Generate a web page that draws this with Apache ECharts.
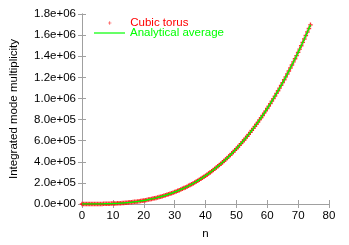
<!DOCTYPE html>
<html>
<head>
<meta charset="utf-8">
<script src="https://cdn.jsdelivr.net/npm/echarts@6/dist/echarts.min.js"></script>
<style>html,body{margin:0;padding:0;background:#fff}#c{width:349px;height:245px}</style>
</head>
<body>
<div id="c"></div>
<script>
var torusN = [0,0.5,1,1.5,2,2.5,3,3.5,4,4.5,5,5.5,6,6.5,7,7.5,8,8.5,9,9.5,10,10.5,11,11.5,12,12.5,13,13.5,14,14.5,15,15.5,16,16.5,17,17.5,18,18.5,19,19.5,20,20.5,21,21.5,22,22.5,23,23.5,24,24.5,25,25.5,26,26.5,27,27.5,28,28.5,29,29.5,30,30.5,31,31.5,32,32.5,33,33.5,34,34.5,35,35.5,36,36.5,37,37.5,38,38.5,39,39.5,40,40.5,41,41.5,42,42.5,43,43.5,44,44.5,45,45.5,46,46.5,47,47.5,48,48.5,49,49.5,50,50.5,51,51.5,52,52.5,53,53.5,54,54.5,55,55.5,56,56.5,57,57.5,58,58.5,59,59.5,60,60.5,61,61.5,62,62.5,63,63.5,64,64.5,65,65.5,66,66.5,67,67.5,68,68.5,69,69.5,70,70.5,71,71.5,72,72.5,73,73.5,74];
var torusValues = [1,1,7,14,33,65,123,180,257,382,515,697,925,1150,1419,1767,2109,2573,3071,3591,4169,4849,5575,6371,7153,8181,9171,10306,11513,12770,14147,15599,17077,18817,20479,22449,24405,26522,28671,31060,33401,36087,38745,41630,44473,47713,50979,54362,57777,61601,65267,69456,73527,77952,82395,87114,91911,96967,101971,107537,112985,118848,124735,130925,137217,143794,150525,157480,164513,172007,179463,187402,195391,203689,212161,220893,229713,239040,248305,258155,267933,278262,288661,299387,310229,321555,332969,344792,356831,369122,381537,394570,407585,421162,434935,448922,463057,477876,492787,508049,523497,539466,555527,572152,588857,606133,623519,641433,659567,678078,696911,716092,735469,755502,775695,796331,817123,838604,860259,882349,904745,927588,950695,974348,998341,1022654,1047391,1072530,1097869,1124003,1150181,1177096,1204229,1231836,1259879,1288247,1316977,1346354,1376107,1406184,1436629,1467760,1499157,1531109,1563385,1596254,1629545,1662802,1697395];
var averageN = [0,1,2,3,4,5,6,7,8,9,10,11,12,13,14,15,16,17,18,19,20,21,22,23,24,25,26,27,28,29,30,31,32,33,34,35,36,37,38,39,40,41,42,43,44,45,46,47,48,49,50,51,52,53,54,55,56,57,58,59,60,61,62,63,64,65,66,67,68,69,70,71,72,73,74];
var averageValues = [0,4,34,113,268,524,905,1437,2145,3054,4189,5575,7238,9203,11494,14137,17157,20580,24429,28731,33510,38792,44602,50965,57906,65450,73622,82448,91952,102160,113097,124788,137258,150533,164637,179594,195432,212175,229847,248475,268083,288695,310339,333038,356818,381704,407721,434893,463247,492807,523599,555647,588977,623615,659584,696910,735619,775735,817283,860290,904779,950776,998305,1047394,1098066,1150347,1204262,1259837,1317094,1376061,1436755,1499215,1563458,1629509,1697398];
var xTickLabels = ['0','10','20','30','40','50','60','70','80'];
var yTickLabels = ['0.0e+00','2.0e+05','4.0e+05','6.0e+05','8.0e+05','1.0e+06','1.2e+06','1.4e+06','1.6e+06','1.8e+06'];
var seriesNames = ['Cubic torus','Analytical average'];

var FONT = '"Liberation Sans", Arial, sans-serif';
var AX = '#a0a0a0';
var chart = echarts.init(document.getElementById('c'), null, {renderer:'canvas'});
function pts(xs, ys){ return xs.map(function(n,i){ return [n, ys[i]]; }); }
var plusThin = 'path://M4,0H6V4H10V6H6V10H4V6H0V4H4Z';
var plusBold = 'path://M3.5,0H6.5V3.5H10V6.5H6.5V10H3.5V6.5H0V3.5H3.5Z';
var baseX = {type:'value', min:0, max:80, interval:10,
  axisLine:{show:true, lineStyle:{color:AX, width:1}},
  axisTick:{show:true, inside:true, length:4, lineStyle:{color:AX}},
  splitLine:{show:false}};
var baseY = {type:'value', min:0, max:1800000, interval:200000,
  axisLine:{show:true, lineStyle:{color:AX, width:1}},
  axisTick:{show:true, inside:true, length:4, lineStyle:{color:AX}},
  splitLine:{show:false}};
chart.setOption({
  animation:false,
  backgroundColor:'#fff',
  grid:{left:80, right:20, top:14, bottom:36, containLabel:false},
  legend:[
    {data:[{name:seriesNames[0], icon:plusThin, textStyle:{color:'#ff0000'}}],
     left:108, top:17, itemWidth:31, itemHeight:3.5, itemGap:0, padding:0,
     selectedMode:false, itemStyle:{color:'#ff0000'},
     textStyle:{fontFamily:FONT, fontSize:11.5, lineHeight:12}},
    {data:[{name:seriesNames[1], icon:'rect', textStyle:{color:'#00ff00'}}],
     left:94, top:27, itemWidth:31, itemHeight:1.2, itemGap:0, padding:0,
     selectedMode:false, itemStyle:{color:'#00ff00'},
     textStyle:{fontFamily:FONT, fontSize:11.5, lineHeight:12}}
  ],
  xAxis:[
    Object.assign({}, baseX, {position:'bottom', name:'n', nameLocation:'middle', nameGap:24,
      nameTextStyle:{fontFamily:FONT, fontSize:11.5, color:'#000'},
      axisLabel:{margin:6, fontFamily:FONT, fontSize:11.5, color:'#000',
        formatter:function(v){ return xTickLabels[Math.round(v/10)]; }}}),
    Object.assign({}, baseX, {position:'top', axisLabel:{show:false}})
  ],
  yAxis:[
    Object.assign({}, baseY, {position:'left', name:'Integrated mode multiplicity', nameLocation:'middle', nameGap:62,
      nameTextStyle:{fontFamily:FONT, fontSize:11.5, color:'#000'},
      axisLabel:{margin:6, fontFamily:FONT, fontSize:11.5, color:'#000',
        formatter:function(v){ return yTickLabels[Math.round(v/200000)]; }}}),
    Object.assign({}, baseY, {position:'right', axisLabel:{show:false}})
  ],
  series:[
    {name:seriesNames[0], type:'scatter', xAxisIndex:0, yAxisIndex:0, data:pts(torusN, torusValues),
     symbol:plusBold, symbolSize:4.5, itemStyle:{color:'#ff0000'}, z:2},
    {name:seriesNames[1], type:'line', xAxisIndex:0, yAxisIndex:0, data:pts(averageN, averageValues),
     showSymbol:false, symbol:'none', lineStyle:{color:'#00ff00', width:1.5}, itemStyle:{color:'#00ff00'}, z:3}
  ]
});
</script>
</body>
</html>
